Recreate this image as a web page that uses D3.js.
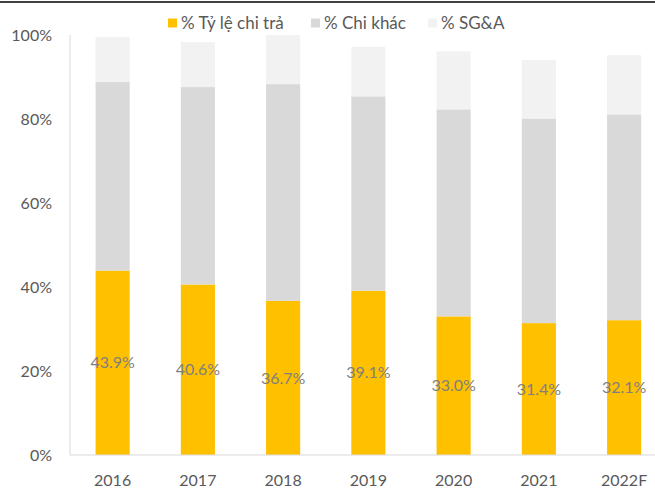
<!DOCTYPE html>
<html>
<head>
<meta charset="utf-8">
<script src="https://cdn.jsdelivr.net/npm/d3@7"></script>
<style>
  body { margin: 0; background: #fff; }
  text { font-family: Lato, "Open Sans", sans-serif; }
</style>
</head>
<body>
<div id="chart"></div>
<script>
// Données
const years = ["2016", "2017", "2018", "2019", "2020", "2021", "2022F"];
const tyLeChiTra = [43.9, 40.6, 36.7, 39.1, 33.0, 31.4, 32.1];
const chiKhac = [44.9, 47.0, 51.6, 46.3, 49.3, 48.7, 49.0];
const sgna = [10.7, 10.7, 11.7, 11.8, 13.8, 13.9, 14.1];
const seriesNames = ["% Tỷ lệ chi trả", "% Chi khác", "% SG&A"];
const yTicks = [0, 20, 40, 60, 80, 100];

const colors = ["#FFC000", "#D9D9D9", "#F2F2F2"];
const width = 655, height = 489;

const rows = years.map((y, i) => ({ year: y, a: tyLeChiTra[i], b: chiKhac[i], c: sgna[i] }));
const stacked = d3.stack().keys(["a", "b", "c"])(rows);

const svg = d3.select('#chart').append('svg')
    .attr('width', width)
    .attr('height', height);

// bordure du haut
svg.append('line')
    .attr('x1', 0).attr('x2', width)
    .attr('y1', 2).attr('y2', 2)
    .attr('stroke', '#000').attr('stroke-width', 1.3);

const x = d3.scaleBand()
    .domain(years)
    .range([70, 70 + 7 * 85.25])
    .paddingInner(0.6)
    .paddingOuter(0.3);

const y = d3.scaleLinear()
    .domain([0, 100])
    .range([455, 35]);

// barres
svg.append('g')
    .selectAll('g')
    .data(stacked)
    .enter().append('g')
    .attr('fill', (d, i) => colors[i])
    .selectAll('rect')
    .data(d => d)
    .enter().append('rect')
    .attr('x', d => x(d.data.year))
    .attr('y', d => y(d[1]))
    .attr('width', x.bandwidth())
    .attr('height', d => y(d[0]) - y(d[1]));

// axes
svg.append('line')
    .attr('x1', 70).attr('x2', width)
    .attr('y1', y(0)).attr('y2', y(0))
    .attr('stroke', '#d9d9d9').attr('stroke-width', 1);
svg.append('line')
    .attr('x1', 70).attr('x2', 70)
    .attr('y1', y(0)).attr('y2', y(100))
    .attr('stroke', '#d9d9d9').attr('stroke-width', 1);

svg.append('g')
    .selectAll('text')
    .data(yTicks)
    .enter().append('text')
    .attr('x', 52)
    .attr('y', d => y(d))
    .attr('dy', '0.35em')
    .attr('text-anchor', 'end')
    .attr('font-size', 16)
    .attr('fill', '#595959')
    .text(d => d + '%');

svg.append('g')
    .selectAll('text')
    .data(years)
    .enter().append('text')
    .attr('x', d => x(d) + x.bandwidth() / 2)
    .attr('y', 480)
    .attr('dy', '0.35em')
    .attr('text-anchor', 'middle')
    .attr('font-size', 16)
    .attr('fill', '#595959')
    .text(d => d);

// étiquettes de données
svg.append('g')
    .selectAll('text')
    .data(rows)
    .enter().append('text')
    .attr('x', d => x(d.year) + x.bandwidth() / 2)
    .attr('y', d => y(d.a / 2))
    .attr('dy', '0.35em')
    .attr('text-anchor', 'middle')
    .attr('font-size', 16)
    .attr('fill', '#7f7f7f')
    .text(d => d.a.toFixed(1) + '%');

// légende
const legendX = [168, 311, 428];
const legend = svg.append('g')
    .selectAll('g')
    .data(seriesNames)
    .enter().append('g')
    .attr('transform', (d, i) => `translate(${legendX[i]}, 23)`);
legend.append('rect')
    .attr('x', 0).attr('y', -4.5)
    .attr('width', 9).attr('height', 9)
    .attr('fill', (d, i) => colors[i]);
legend.append('text')
    .attr('x', 13)
    .attr('dy', '0.35em')
    .attr('font-size', 17)
    .attr('fill', '#595959')
    .text(d => d);
</script>
</body>
</html>
